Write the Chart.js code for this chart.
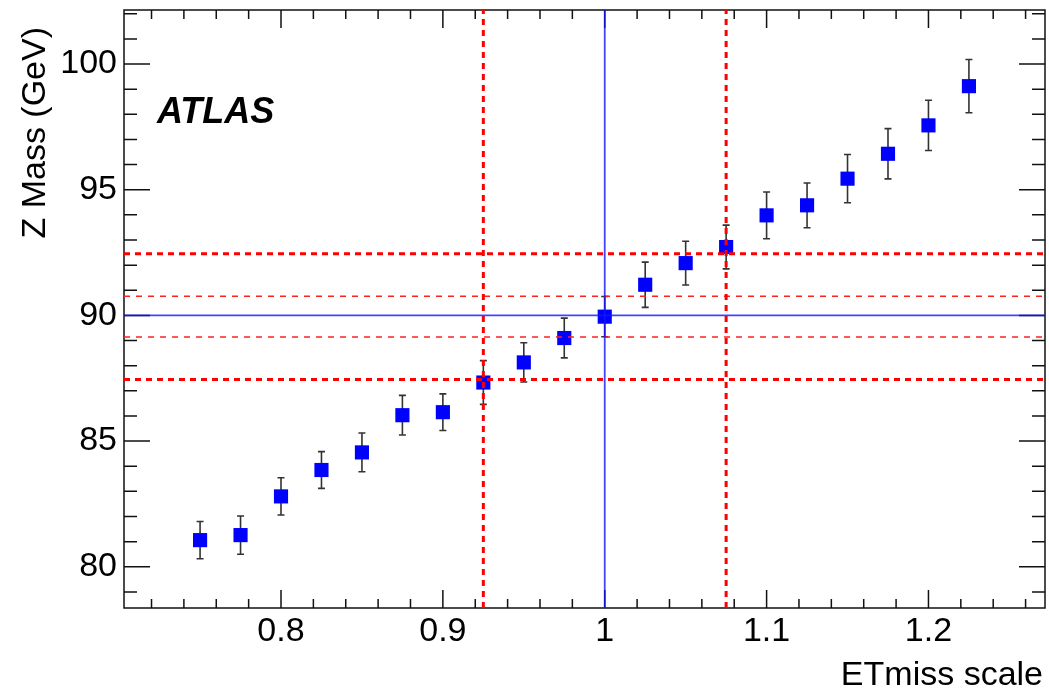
<!DOCTYPE html>
<html>
<head>
<meta charset="utf-8">
<script src="https://cdn.jsdelivr.net/npm/chart.js@4"></script>
<style>
  html, body { margin: 0; padding: 0; background: #fff; }
  #wrap { width: 1049px; height: 688px; }
</style>
</head>
<body>
<div id="wrap"><canvas id="c" width="1049" height="688"></canvas></div>
<script>
// measured points
const scale = [0.75, 0.775, 0.8, 0.825, 0.85, 0.875, 0.9, 0.925, 0.95, 0.975,
               1.0, 1.025, 1.05, 1.075, 1.1, 1.125, 1.15, 1.175, 1.2, 1.225];
const zMass = [81.06, 81.26, 82.8, 83.85, 84.55, 86.03, 86.15, 87.33, 88.13, 89.1,
               89.95, 91.22, 92.08, 92.72, 93.98, 94.38, 95.44, 96.43, 97.56, 99.12];
const zErr  = [0.74, 0.76, 0.74, 0.73, 0.77, 0.79, 0.73, 0.87, 0.78, 0.79,
               0.80, 0.90, 0.87, 0.87, 0.93, 0.89, 0.96, 1.0, 1.0, 1.06];

// reference lines
const nominalScale = 1.0;
const nominalMass = 90;
const scaleBand = [0.925, 1.075];
const massBandWide = [87.45, 92.45];
const massBandNarrow = [89.14, 90.76];

// axes
const xRange = [0.703, 1.272];
const yRange = [78.36, 102.15];
const xTickLabels = [0.8, 0.9, 1, 1.1, 1.2];
const yTickLabels = [80, 85, 90, 95, 100];

const FONT = '"Liberation Sans", Arial, sans-serif';

const vline = (x, color, width, dash) => ({
  type: 'scatter', showLine: true, pointRadius: 0, order: 0,
  data: [{x: x, y: yRange[0]}, {x: x, y: yRange[1]}],
  borderColor: color, borderWidth: width, borderDash: dash
});
const hline = (y, color, width, dash) => ({
  type: 'scatter', showLine: true, pointRadius: 0, order: 0,
  data: [{x: xRange[0], y: y}, {x: xRange[1], y: y}],
  borderColor: color, borderWidth: width, borderDash: dash
});

// frame + ticks first, then error bars, all behind the datasets
const frameAndErrors = {
  id: 'frameAndErrors',
  beforeDatasetsDraw(chart) {
    const {ctx, chartArea: a, scales: {x, y}} = chart;
    ctx.save();
    ctx.strokeStyle = '#111';
    ctx.lineWidth = 1.5;
    ctx.strokeRect(a.left, a.top, a.right - a.left, a.bottom - a.top);
    ctx.beginPath();
    for (let k = 36; k <= 63; k++) {
      const v = k / 50;
      if (v < xRange[0] || v > xRange[1]) continue;
      const px = x.getPixelForValue(v);
      const len = (k % 5 === 0) ? 18 : 9;
      ctx.moveTo(px, a.bottom); ctx.lineTo(px, a.bottom - len);
      ctx.moveTo(px, a.top); ctx.lineTo(px, a.top + len);
    }
    for (let v = 79; v <= 102; v++) {
      const py = y.getPixelForValue(v);
      const len = (v % 5 === 0) ? 26 : 13;
      ctx.moveTo(a.left, py); ctx.lineTo(a.left + len, py);
      ctx.moveTo(a.right, py); ctx.lineTo(a.right - len, py);
    }
    ctx.stroke();

    ctx.strokeStyle = '#333';
    ctx.lineWidth = 1.6;
    scale.forEach((v, i) => {
      const px = x.getPixelForValue(v);
      const top = y.getPixelForValue(zMass[i] + zErr[i]);
      const bot = y.getPixelForValue(zMass[i] - zErr[i]);
      ctx.beginPath();
      ctx.moveTo(px, top); ctx.lineTo(px, bot);
      ctx.moveTo(px - 3.5, top); ctx.lineTo(px + 3.5, top);
      ctx.moveTo(px - 3.5, bot); ctx.lineTo(px + 3.5, bot);
      ctx.stroke();
    });
    ctx.restore();
  }
};

// axis titles and ATLAS label
const labels = {
  id: 'labels',
  afterDraw(chart) {
    const {ctx} = chart;
    ctx.save();
    ctx.fillStyle = '#000';
    ctx.font = '34px ' + FONT;
    ctx.textAlign = 'right';
    ctx.textBaseline = 'alphabetic';
    ctx.fillText('ETmiss scale', 1043, 685);
    ctx.save();
    ctx.translate(45, 27);
    ctx.rotate(-Math.PI / 2);
    ctx.fillText('Z Mass (GeV)', 0, 0);
    ctx.restore();

    ctx.textAlign = 'left';
    ctx.font = 'italic bold 36px ' + FONT;
    ctx.fillText('ATLAS', 157, 123);
    ctx.restore();
  }
};

new Chart(document.getElementById('c'), {
  type: 'scatter',
  data: {
    datasets: [
      {
        data: scale.map((v, i) => ({x: v, y: zMass[i]})),
        pointStyle: 'rect', pointRadius: 10, pointHoverRadius: 10,
        backgroundColor: '#0000ff', borderWidth: 0, order: 2
      },
      vline(nominalScale, 'rgba(20,20,255,0.8)', 1.8, []),
      hline(nominalMass, 'rgba(20,20,255,0.8)', 1.8, []),
      vline(scaleBand[0], '#ff0000', 3, [6, 5]),
      vline(scaleBand[1], '#ff0000', 3, [6, 5]),
      hline(massBandWide[0], '#ff0000', 3, [6, 5]),
      hline(massBandWide[1], '#ff0000', 3, [6, 5]),
      hline(massBandNarrow[0], '#ff2020', 1.5, [6, 6]),
      hline(massBandNarrow[1], '#ff2020', 1.5, [6, 6])
    ]
  },
  options: {
    responsive: false,
    animation: false,
    events: [],
    layout: { autoPadding: false, padding: { top: 10, right: 4, left: 0, bottom: 0 } },
    plugins: { legend: { display: false }, tooltip: { enabled: false } },
    scales: {
      x: {
        type: 'linear', min: xRange[0], max: xRange[1],
        afterBuildTicks: s => { s.ticks = xTickLabels.map(v => ({value: v})); },
        afterFit: s => { s.height = 80; s.paddingLeft = 0; s.paddingRight = 0; },
        grid: { display: false, drawTicks: false },
        border: { display: false },
        ticks: { color: '#000', font: { family: FONT, size: 34 }, padding: 3,
                 maxRotation: 0, autoSkip: false, callback: v => String(v) }
      },
      y: {
        type: 'linear', min: yRange[0], max: yRange[1],
        afterBuildTicks: s => { s.ticks = yTickLabels.map(v => ({value: v})); },
        afterFit: s => { s.width = 124; s.paddingTop = 0; s.paddingBottom = 0; },
        grid: { display: false, drawTicks: false },
        border: { display: false },
        ticks: { color: '#000', font: { family: FONT, size: 34 }, padding: 7,
                 autoSkip: false, callback: v => String(v) }
      }
    }
  },
  plugins: [frameAndErrors, labels]
});
</script>
</body>
</html>
